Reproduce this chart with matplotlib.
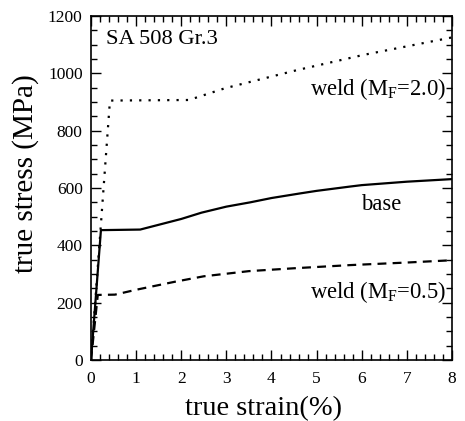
import matplotlib
matplotlib.use("Agg")
import matplotlib.pyplot as plt
from matplotlib.ticker import MultipleLocator

plt.rcParams['font.family'] = ['Liberation Serif', 'DejaVu Serif']
plt.rcParams['mathtext.fontset'] = 'custom'
plt.rcParams['mathtext.rm'] = 'Liberation Serif'
plt.rcParams['mathtext.it'] = 'Liberation Serif:italic'

# data
base_strain = [0, 0.22, 1.09, 2.0, 2.45, 3.0, 3.53, 4.0, 4.63, 5.0, 5.74, 6.0, 7.0, 8.0]
base_stress = [0, 453, 455, 492, 514, 535, 550, 565, 581, 590, 605, 610, 622, 631]

weld2_strain = [0, 0.42, 2.17, 2.97, 4.56, 6.03, 7.96, 8.0]
weld2_stress = [0, 905, 907, 948, 1011, 1064, 1124, 1125]

weld05_strain = [0, 0.15, 0.53, 1.0, 1.86, 2.5, 3.5, 4.5, 5.74, 7.0, 8.0]
weld05_stress = [0, 227, 228, 245, 273, 292, 310, 320, 331, 340, 348]

fig = plt.figure(figsize=(4.65, 4.21), dpi=100)
ax = fig.add_axes([0.1957, 0.1449, 0.9720 - 0.1957, 0.962 - 0.1449])

ax.plot(base_strain, base_stress, color='black', lw=1.6, ls='-')
ax.plot(weld2_strain, weld2_stress, color='black', lw=1.6, ls=(0, (1, 3.2)))
ax.plot(weld05_strain, weld05_stress, color='black', lw=1.6, ls=(0, (4, 2.8)))

ax.set_xlim(0, 8)
ax.set_ylim(0, 1200)
ax.xaxis.set_major_locator(MultipleLocator(1))
ax.xaxis.set_minor_locator(MultipleLocator(0.2))
ax.yaxis.set_major_locator(MultipleLocator(200))
ax.yaxis.set_minor_locator(MultipleLocator(50))
ax.tick_params(which='both', direction='in', top=True, right=True, width=1.0, labelsize=12.5)
ax.tick_params(axis='x', which='major', pad=8)
ax.tick_params(axis='y', which='major', pad=6)
ax.tick_params(which='major', length=7)
ax.tick_params(which='minor', length=4)
for s in ax.spines.values():
    s.set_linewidth(1.2)

ax.set_xlabel('true strain(%)', fontsize=20.5)
ax.set_ylabel('true stress (MPa)', fontsize=21)
ax.xaxis.set_label_coords(0.478, -0.105)
ax.yaxis.set_label_coords(-0.143, 0.541)

ax.text(0.0416, 0.918, 'SA 508 Gr.3', transform=ax.transAxes, fontsize=16.2, ha='left', va='baseline')
ax.text(0.985, 0.770, r'weld (M$_\mathrm{F}$=2.0)', transform=ax.transAxes, fontsize=16.3, ha='right', va='baseline')
ax.text(0.803, 0.436, 'base', transform=ax.transAxes, fontsize=16.3, ha='center', va='baseline')
ax.text(0.985, 0.180, r'weld (M$_\mathrm{F}$=0.5)', transform=ax.transAxes, fontsize=16.3, ha='right', va='baseline')

fig.savefig('out.png', dpi=100)
